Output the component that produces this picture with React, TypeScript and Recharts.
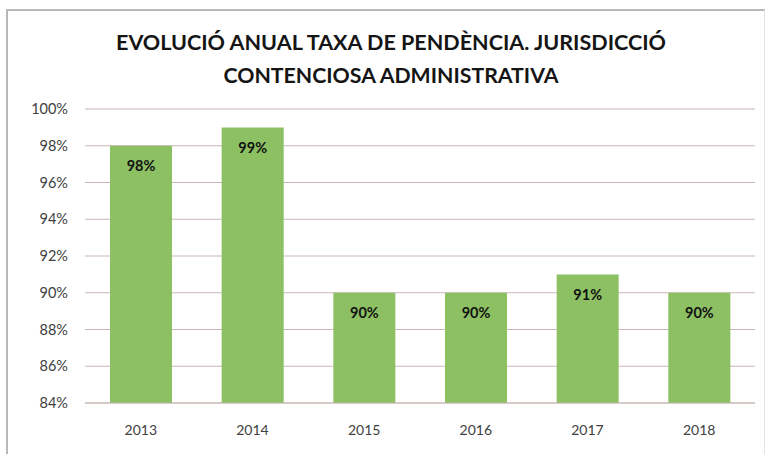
import { Bar, BarChart, CartesianGrid, LabelList, XAxis, YAxis } from 'recharts'

const YEARS = ['2013', '2014', '2015', '2016', '2017', '2018']
const RATES = [98, 99, 90, 90, 91, 90]
const Y_TICKS = [84, 86, 88, 90, 92, 94, 96, 98, 100]
const TITLE_LINES = ['EVOLUCIÓ ANUAL TAXA DE PENDÈNCIA. JURISDICCIÓ', 'CONTENCIOSA ADMINISTRATIVA']

const FONT = 'Lato, "Open Sans", sans-serif'
const GRID = '#c9b7b4'

const data = YEARS.map((year, i) => ({ year, rate: RATES[i] }))

export default function App() {
  return (
    <div style={{ position: 'absolute', left: 0, top: 0, width: 767, height: 454, background: '#fff' }}>
      <div
        style={{
          position: 'absolute',
          left: 6,
          top: 9,
          width: 756,
          height: 460,
          borderTop: '2px solid #b8b8b8',
          borderLeft: '2px solid #b8b8b8',
          borderRight: '1px solid #e4e4e4',
        }}
      />
      <svg width={767} height={100} style={{ position: 'absolute', left: 0, top: 0 }}>
        {TITLE_LINES.map((line, i) => (
          <text
            key={i}
            x={391}
            y={50 + i * 33}
            textAnchor="middle"
            fontFamily={FONT}
            fontWeight={700}
            fontSize={20.5}
            fill="#151515"
            textLength={i === 0 ? 550 : 335}
            lengthAdjust="spacingAndGlyphs"
          >
            {line}
          </text>
        ))}
      </svg>
      <BarChart
        width={767}
        height={454}
        data={data}
        margin={{ top: 109, right: 12, bottom: 0, left: 0 }}
        style={{ position: 'absolute', left: 0, top: 0 }}
      >
        <CartesianGrid vertical={false} stroke={GRID} strokeWidth={1.2} />
        <XAxis
          dataKey="year"
          height={51}
          axisLine={{ stroke: GRID, strokeWidth: 1.2 }}
          tickLine={false}
          tickMargin={16}
          tick={{ fill: '#404040', fontSize: 14, fontFamily: FONT }}
        />
        <YAxis
          width={85}
          domain={[84, 100]}
          ticks={Y_TICKS}
          interval={0}
          axisLine={false}
          tickLine={false}
          tickMargin={11}
          tickFormatter={(v) => `${v}%`}
          tick={{ fill: '#404040', fontSize: 14.5, fontFamily: FONT }}
        />
        <Bar dataKey="rate" fill="#8cc063" barSize={62} isAnimationActive={false}>
          <LabelList
            dataKey="rate"
            position="insideTop"
            offset={15}
            formatter={(v) => `${v}%`}
            style={{ fill: '#111', fontSize: 14.5, fontWeight: 700, fontFamily: FONT }}
          />
        </Bar>
      </BarChart>
    </div>
  )
}
